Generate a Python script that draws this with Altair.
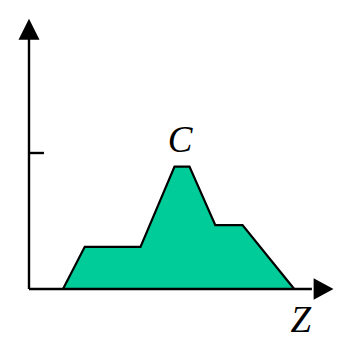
import altair as alt
import pandas as pd

# Profile polygon (Z position, height); unit = tick height
z_vals = [0.25, 0.41, 0.82, 1.07, 1.18, 1.37, 1.57, 1.95]
h_vals = [0.0, 0.31, 0.31, 0.90, 0.90, 0.47, 0.47, 0.0]
tick_value = 1.0
x_axis_end = 2.16
y_axis_end = 1.98
peak_label = "C"
axis_label = "Z"

W, H = 328, 331
xs = alt.Scale(domain=[-21 / 136, (W - 21) / 136], nice=False, zero=False)
ys = alt.Scale(domain=[(281 - H) / 136, 281 / 136], nice=False, zero=False)

poly = pd.DataFrame({"z": z_vals, "h": h_vals})

area = alt.Chart(poly).mark_area(
    color="#00CC99", stroke="black", strokeWidth=2.2, line=False, interpolate="linear"
).encode(
    x=alt.X("z:Q", scale=xs, axis=None),
    y=alt.Y("h:Q", scale=ys, axis=None),
)

rules_df = pd.DataFrame({
    "x": [0.0, 0.0, 0.0],
    "x2": [0.0, x_axis_end - 0.08, 0.11],
    "y": [0.0, 0.0, tick_value],
    "y2": [y_axis_end - 0.08, 0.0, tick_value],
})
rules = alt.Chart(rules_df).mark_rule(color="black", strokeWidth=2.4).encode(
    x=alt.X("x:Q", scale=xs, axis=None),
    x2="x2:Q",
    y=alt.Y("y:Q", scale=ys, axis=None),
    y2="y2:Q",
)

arrow_up = alt.Chart(pd.DataFrame({"x": [0.0], "y": [y_axis_end - 0.07]})).mark_point(
    shape="M-1,1L1,1L0,-1Z", size=440, filled=True, color="black", opacity=1
).encode(x=alt.X("x:Q", scale=xs, axis=None), y=alt.Y("y:Q", scale=ys, axis=None))

arrow_right = alt.Chart(pd.DataFrame({"x": [x_axis_end], "y": [0.0]})).mark_point(
    shape="M-0.85,-1L1,0L-0.85,1Z", size=460, filled=True, color="black", opacity=1
).encode(x=alt.X("x:Q", scale=xs, axis=None), y=alt.Y("y:Q", scale=ys, axis=None))

peak_z = (z_vals[3] + z_vals[4]) / 2
c_text = alt.Chart(pd.DataFrame({"x": [peak_z], "y": [max(h_vals)], "t": [peak_label]})).mark_text(
    font="Liberation Serif", fontStyle="italic", fontSize=37, baseline="alphabetic",
    align="center", dy=-15, dx=-2, color="black"
).encode(x=alt.X("x:Q", scale=xs, axis=None), y=alt.Y("y:Q", scale=ys, axis=None), text="t:N")

z_text = alt.Chart(pd.DataFrame({"x": [x_axis_end], "y": [0.0], "t": [axis_label]})).mark_text(
    font="Liberation Serif", fontStyle="italic", fontSize=37, baseline="alphabetic",
    align="center", dy=43, dx=-22, color="black"
).encode(x=alt.X("x:Q", scale=xs, axis=None), y=alt.Y("y:Q", scale=ys, axis=None), text="t:N")

chart = alt.layer(area, rules, arrow_up, arrow_right, c_text, z_text).properties(
    width=W, height=H, autosize=alt.AutoSizeParams(type="none"), padding=0
).configure_view(stroke=None)

chart.save("out.html", embed_options={"renderer": "svg", "actions": False})
